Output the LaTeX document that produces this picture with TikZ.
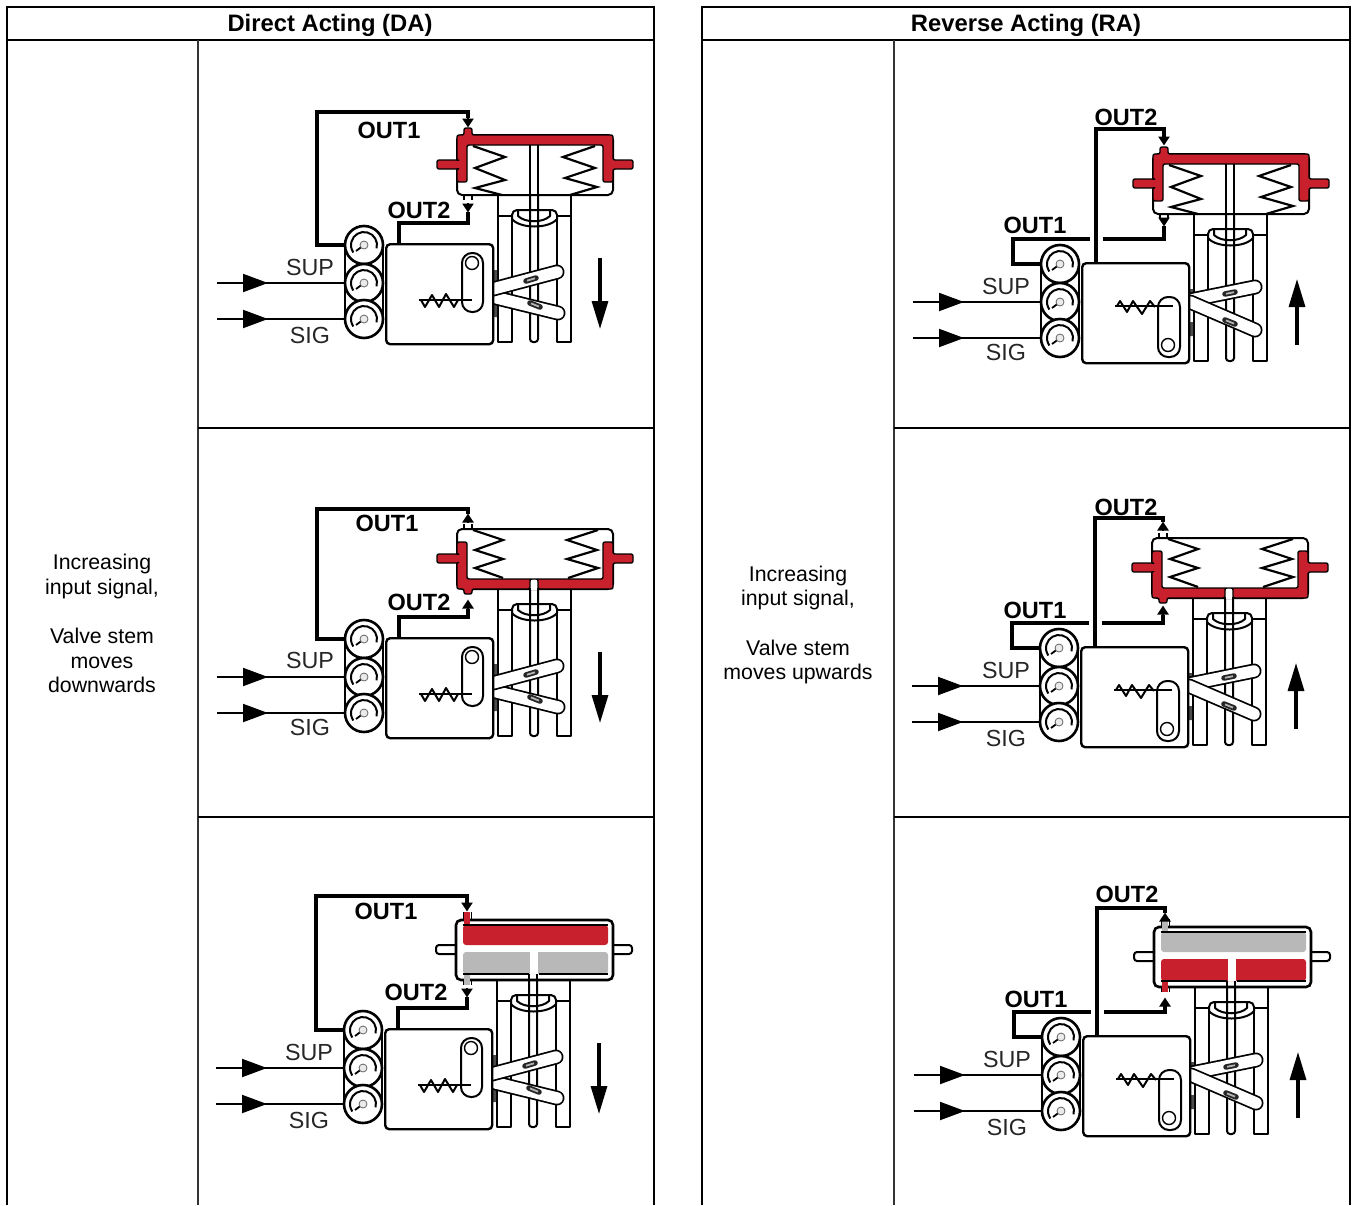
\documentclass[tikz,border=0pt]{standalone}
\usepackage{fontspec}
\setmainfont{Liberation Sans}
\usetikzlibrary{arrows.meta}
\definecolor{actred}{HTML}{C8202C}
\definecolor{actgrey}{HTML}{B8B8B8}
\tikzset{
  frameline/.style={line width=2pt,black},
  cellline/.style={line width=1.6pt,black!80},
  thinline/.style={line width=2pt,black,line join=round},
  pipeline/.style={line width=3.6pt,black,line join=miter},
  sigline/.style={line width=2pt,black},
  porthead/.style={line width=2.6pt,-{Triangle[width=11pt,length=9pt]},shorten >=-0.5pt},
  inhead/.style={line width=2pt,-{Triangle[width=18pt,length=25pt]}},
  travel/.style={line width=3.2pt,-{Triangle[width=16pt,length=28pt]}},
  gauge/.style={circle,draw,line width=2.6pt,fill=white,minimum size=38pt,inner sep=0pt},
  pbox/.style={rectangle,draw,line width=2.4pt,fill=white,rounded corners=4pt,minimum width=107pt,minimum height=100pt,inner sep=0pt,anchor=north west},
  outlabel/.style={font=\bfseries\fontsize{23.5}{23.5}\selectfont,inner sep=0pt},
  siglabel/.style={font=\fontsize{23.3}{23.3}\selectfont,inner sep=0pt,black!85},
  title/.style={font=\bfseries\fontsize{23.8}{25}\selectfont,inner sep=0pt},
  note/.style={font=\fontsize{21.3}{24.6}\selectfont,align=center,inner sep=0pt},
  redbody/.style={fill=actred,draw=black,line width=1.4pt,rounded corners=2pt},
}
% ---- gauge face
\newcommand\gaugeface[1]{%
  \draw[line width=2pt] ([shift={(-15:13pt)}]#1.center) arc[start angle=-15,end angle=215,radius=13pt];
  \draw[line width=1.8pt] ([shift={(-8pt,-6pt)}]#1.center) -- (#1.center);
  \draw[line width=0.8pt,fill=black!8,draw=black!60] (#1.center) circle[radius=4pt];
}
% #1 prefix #2 x #3 y #4 0=DA,1=RA #5 actuator mode #6 top-pipe y #7 top base,#8 top tip,#9 bottom base; bottom tip in \bottip
\newcommand\valve[9]{%
\begin{scope}[shift={(#2,#3)}]
  % yoke
  \draw[thinline] (113,-48) -- (113,99) -- (127,99) -- (127,-24);
  \draw[thinline] (186,-48) -- (186,99) -- (172,99) -- (172,-24);
  \draw[thinline] (113,-27) -- (127,-27) (172,-27) -- (186,-27);
  \draw[thinline,rounded corners=5pt] (127,-24) -- (127,-33) -- (172,-33) -- (172,-24);
  \draw[thinline] (127,-24) .. controls (135,-14) and (164,-14) .. (172,-24);
  \draw[thinline] (133,-33) -- (133,-27) .. controls (140,-20) and (158,-20) .. (165,-27) -- (165,-33);
  \draw[thinline,rounded corners=3pt] (145,-50) -- (145,99) -- (153,99) -- (153,-50);
  % actuator
  \ifnum#5<3
    \draw[thinline,fill=white,rounded corners=5pt] (72,-108) rectangle (228,-48);
    \ifnum#5=1
      \path[redbody] (72,-61) -- (72,-108) -- (79,-108) -- (79,-115) -- (87,-115) -- (87,-108) -- (228,-108) -- (228,-83) -- (248,-83) -- (248,-74) -- (228,-74) -- (228,-61) -- (218,-61) -- (218,-98) -- (82,-98) -- (82,-61) -- (72,-61) -- cycle;
      \path[redbody] (72,-83) -- (52,-83) -- (52,-74) -- (72,-74) -- (74,-74) -- (74,-83) -- cycle;
      \fill[actred] (71,-82) rectangle (76,-75);
      \draw[thinline] (145,-98) -- (145,-48) (153,-98) -- (153,-48);
      \draw[line width=2.2pt] (88,-97) -- (120,-86) -- (90,-75) -- (120,-63) -- (90,-55) -- (117,-48);
      \draw[line width=2.2pt] (210,-97) -- (178,-86) -- (210,-75) -- (180,-65) -- (212,-56) -- (185,-48);
      \draw[line width=1.2pt] (79,-48) -- (79,-43) (87,-48) -- (87,-43);
    \else
      \path[redbody] (72,-95) -- (72,-48) -- (79,-48) -- (79,-43) -- (87,-43) -- (87,-48) -- (145,-48) -- (145,-58) -- (153,-58) -- (153,-48) -- (228,-48) -- (228,-74) -- (248,-74) -- (248,-83) -- (228,-83) -- (228,-95) -- (218,-95) -- (218,-58) -- (82,-58) -- (82,-95) -- cycle;
      \path[redbody] (72,-83) -- (52,-83) -- (52,-74) -- (74,-74) -- (74,-83) -- cycle;
      \fill[actred] (71,-82) rectangle (76,-75);
      \fill[white] (146,-57) rectangle (152,-47);
      \draw[line width=2.2pt] (88,-107) -- (118,-97) -- (90,-87) -- (118,-78) -- (90,-69) -- (118,-59);
      \draw[line width=2.2pt] (213,-107) -- (182,-97) -- (212,-87) -- (182,-78) -- (213,-69) -- (183,-59);
      \draw[line width=1.2pt] (79,-108) -- (79,-113) (87,-108) -- (87,-113);
    \fi
  \else
    \draw[thinline,fill=white,rounded corners=3pt] (52,-83) rectangle (80,-74);
    \draw[thinline,fill=white,rounded corners=3pt] (220,-83) rectangle (248,-74);
    \draw[line width=2.6pt,fill=white,rounded corners=5pt] (72,-108) rectangle (229,-48);
    \ifnum#5=3
      \fill[actred,rounded corners=3pt] (79,-103) rectangle (224,-83);
      \fill[actgrey,rounded corners=3pt] (79,-76) rectangle (224,-54);
      \fill[actred] (80,-116) rectangle (86,-103);
      \fill[actgrey] (80,-54) rectangle (86,-43);
    \else
      \fill[actgrey,rounded corners=3pt] (79,-103) rectangle (224,-83);
      \fill[actred,rounded corners=3pt] (79,-76) rectangle (224,-54);
      \fill[actgrey] (80,-116) rectangle (86,-103);
      \fill[actred] (80,-54) rectangle (86,-43);
    \fi
    \fill[white] (146,-76) rectangle (154,-54);
    \draw[line width=1pt] (79,-116) -- (79,-108) (87,-116) -- (87,-108);
    \draw[line width=1pt] (79,-48) -- (79,-43) (87,-48) -- (87,-43);
    \draw[thinline] (79,-103) -- (224,-103) (79,-54) -- (145,-54) (155,-54) -- (224,-54);
    \draw[thinline] (145,-48) -- (145,-54) (153,-48) -- (153,-54);
  \fi
  % levers and tabs
  \fill[black!70] (106,27) rectangle (112,39) (106,60) rectangle (112,74);
  \ifnum#4=0
    \draw[line width=15pt,line cap=round] (112,55) -- (173,70);
    \draw[line width=11.5pt,line cap=round,white] (112,55) -- (173,70);
    \draw[line width=15pt,line cap=round] (108,46) -- (172,29);
    \draw[line width=11.5pt,line cap=round,white] (108,46) -- (172,29);
    \draw[line width=5.5pt,black!85,line cap=round] (141,38) -- (151,35);
    \draw[line width=1.8pt,black!30] (142,37.7) -- (150,35.3);
    \draw[line width=5.5pt,black!85,line cap=round] (145,60) -- (155,64);
    \draw[line width=1.8pt,black!30] (146,60.4) -- (154,63.6);
  \else
    \draw[line width=15pt,line cap=round] (110,38) -- (174,25);
    \draw[line width=11.5pt,line cap=round,white] (110,38) -- (174,25);
    \draw[line width=15pt,line cap=round] (109,40) -- (174,68);
    \draw[line width=11.5pt,line cap=round,white] (109,40) -- (174,68);
    \draw[line width=5.5pt,black!85,line cap=round] (144,32) -- (154,30);
    \draw[line width=1.8pt,black!30] (145,31.8) -- (153,30.2);
    \draw[line width=5.5pt,black!85,line cap=round] (144,58) -- (154,62);
    \draw[line width=1.8pt,black!30] (145,58.4) -- (153,61.6);
  \fi
  % gauges
  \draw[thinline] (-40,2) -- (-40,76) (-2,2) -- (-2,76);
  \node[gauge] (#1g1) at (-21,2) {};
  \node[gauge] (#1g2) at (-21,40) {};
  \node[gauge] (#1g3) at (-21,76) {};
  \gaugeface{#1g1}\gaugeface{#1g2}\gaugeface{#1g3}
  % positioner
  \node[pbox] (#1box) at (0,0) {};
  \ifnum#4=0
    \draw[thinline,rounded corners=10pt] (77,10) rectangle (98,69);
    \draw[line width=2pt] (34,57) -- (87,57);
    \draw[line width=2pt,line join=round] (36,57) -- (40,64) -- (47,52) -- (54,64) -- (61,51) -- (69,64) -- (73,57);
    \draw[line width=1.4pt,fill=white] (87,20) circle[radius=6.5pt];
  \else
    \draw[thinline,rounded corners=10pt] (77,35) rectangle (99,95);
    \draw[line width=2pt] (34,44) -- (92,44);
    \draw[line width=2pt,line join=round] (36,44) -- (39,39) -- (46,50) -- (52,39) -- (61,52) -- (69,39) -- (74,45);
    \draw[line width=1.4pt,fill=white] (87,83) circle[radius=6.5pt];
  \fi
  % connectors
  \coordinate (#1topbase) at (83,#7);
  \coordinate (#1toptip) at (83,#8);
  \coordinate (#1botbase) at (83,#9);
  \coordinate (#1bottip) at (83,\bottip);
  \pgfmathsetmacro\topend{min(#7,#8)}
  \pgfmathsetmacro\botend{max(#9,\bottip)}
  \coordinate (#1topend) at (83,\topend);
  \coordinate (#1botend) at (83,\botend);
  \draw[porthead] (#1topbase) -- (#1toptip);
  \draw[porthead] (#1botbase) -- (#1bottip);
  \ifnum#4=0
    \coordinate (#1c1) at (-68,#6);
    \coordinate (#1c2) at (14,-20);
    \draw[pipeline] (#1g1.west) -| (#1c1) -| (#1topend);
    \draw[pipeline] (#1c2 |- #1box.north) -- (#1c2) -| (#1botend);
    \coordinate (#1trtail) at (215,15);
    \coordinate (#1trtip) at (215,86);
  \else
    \coordinate (#1c1) at (-68,-23);
    \coordinate (#1c2) at (15,#6);
    \coordinate (#1gapa) at (9,-23);
    \coordinate (#1gapb) at (22,-23);
    \draw[pipeline] (#1g1.west) -| (#1c1) -- (#1gapa);
    \draw[pipeline] (#1gapb) -| (#1botend);
    \draw[pipeline] (#1c2 |- #1box.north) -- (#1c2) -| (#1topend);
    \coordinate (#1trtail) at (216,83);
    \coordinate (#1trtip) at (216,17);
  \fi
  \draw[travel] (#1trtail) -- (#1trtip);
  \coordinate (#1supstart) at (-168,40);
  \coordinate (#1sigstart) at (-168,76);
  \coordinate (#1supmid) at (-117,40);
  \coordinate (#1sigmid) at (-117,76);
  \draw[inhead] (#1supstart) -- (#1supmid);
  \draw[inhead] (#1sigstart) -- (#1sigmid);
  \draw[sigline] (#1supstart) -- (#1g2.west);
  \draw[sigline] (#1sigstart) -- (#1g3.west);
\end{scope}}
\begin{document}
\begin{tikzpicture}[x=1pt,y=-1pt]
\useasboundingbox (0,0) rectangle (1352,1205);
\fill[white] (0,0) rectangle (1352,1205);
% table
\draw[frameline] (7,1205) -- (7,7) -- (654,7) -- (654,1205);
\draw[frameline] (7,39.5) -- (654,39.5);
\draw[frameline] (702,1205) -- (702,7) -- (1350,7) -- (1350,1205);
\draw[frameline] (702,39.5) -- (1350,39.5);
\draw[cellline] (198,39.5) -- (198,1205);
\draw[cellline] (894,39.5) -- (894,1205);
\draw[frameline] (198,428) -- (654,428) (198,817) -- (654,817);
\draw[frameline] (894,428) -- (1350,428) (894,817) -- (1350,817);
\node[title] (t1) at (330,25) {Direct Acting (DA)};
\node[title] (t2) at (1026,25) {Reverse Acting (RA)};
\node[note] (n1) at (102,623.5) {Increasing\\input signal,\\[24.6pt]Valve stem\\moves\\downwards};
\node[note] (n2) at (798,625) {Increasing\\input signal,\\[24.6pt]Valve stem\\moves upwards};
% valves
\def\bottip{-31}\valve{a}{385}{243}{0}{1}{-131}{-125}{-116}{-40}
\node[outlabel] (aout1) at (389,130) {OUT1};
\node[outlabel] (aout2) at (419,210) {OUT2};
\node[siglabel] (asup) at (310,267) {SUP};
\node[siglabel] (asig) at (310,335) {SIG};
\def\bottip{-37}\valve{b}{385}{637}{0}{2}{-128}{-115}{-123}{-28}
\node[outlabel] (bout1) at (387,523) {OUT1};
\node[outlabel] (bout2) at (419,602) {OUT2};
\node[siglabel] (bsup) at (310,660) {SUP};
\node[siglabel] (bsig) at (310,727) {SIG};
\def\bottip{-31}\valve{c}{384}{1028}{0}{3}{-132}{-125}{-117}{-40}
\node[outlabel] (cout1) at (386,911) {OUT1};
\node[outlabel] (cout2) at (416,992) {OUT2};
\node[siglabel] (csup) at (309,1052) {SUP};
\node[siglabel] (csig) at (309,1120) {SIG};
\def\bottip{-36}\valve{d}{1081}{262}{1}{1}{-133}{-125}{-117}{-44}
\node[outlabel] (dout2) at (1126,117) {OUT2};
\node[outlabel] (dout1) at (1035,225) {OUT1};
\node[siglabel] (dsup) at (1006,286) {SUP};
\node[siglabel] (dsig) at (1006,352) {SIG};
\def\bottip{-40}\valve{e}{1080}{646}{1}{2}{-128}{-115}{-124}{-31}
\node[outlabel] (eout2) at (1126,507) {OUT2};
\node[outlabel] (eout1) at (1035,610) {OUT1};
\node[siglabel] (esup) at (1006,670) {SUP};
\node[siglabel] (esig) at (1006,738) {SIG};
\def\bottip{-37}\valve{f}{1082}{1035}{1}{4}{-127}{-115}{-122}{-30}
\node[outlabel] (fout2) at (1127,894) {OUT2};
\node[outlabel] (fout1) at (1036,999) {OUT1};
\node[siglabel] (fsup) at (1007,1059) {SUP};
\node[siglabel] (fsig) at (1007,1127) {SIG};
\end{tikzpicture}
\end{document}
